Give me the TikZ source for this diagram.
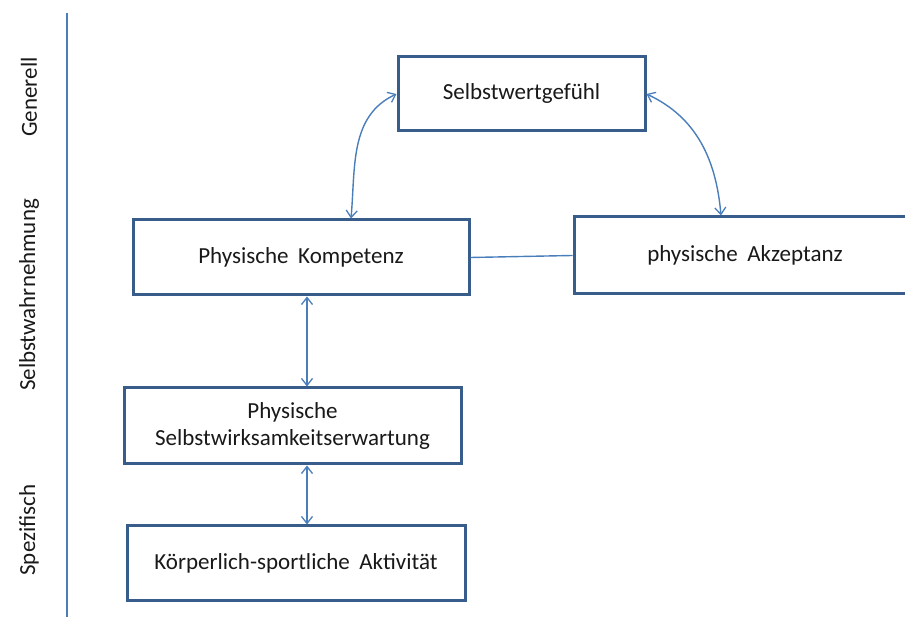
\documentclass[tikz,border=0pt]{standalone}
\usepackage{fontspec}
\setmainfont{Carlito}
\usetikzlibrary{arrows.meta}
\definecolor{boxline}{HTML}{385D8A}
\definecolor{linkline}{HTML}{4A7EBB}
\newcommand{\gap}{\hspace{0.42em}}
\begin{document}
\begin{tikzpicture}[x=1pt,y=1pt,
  box/.style={draw=boxline, line width=3pt, fill=white, align=center,
    inner sep=0pt, font=\fontsize{23}{27.5}\selectfont, text=black!90},
  link/.style={draw=linkline, line width=1.4pt},
  twoway/.style={link, {Straight Barb[length=7pt,width=11pt,line width=1.3pt]}-{Straight Barb[length=7pt,width=11pt,line width=1.3pt]}},
  level/.style={rotate=90, font=\fontsize{23}{25}\selectfont, text=black!90}]
\useasboundingbox (0,0) rectangle (905,617);
\clip (0,0) rectangle (905,617);

% level axis
\coordinate (axtop) at (67,604);
\coordinate (axbot) at (67,0);
\draw[linkline, line width=1.4pt] (axtop) -- (axbot);
\node[level] (lgen) at (29,520) {Generell};
\node[level] (lself) at (29,322) {Selbstwahrnehmung};
\node[level] (lspez) at (29,87) {Spezifisch};

% boxes
\node[box, minimum width=247pt, minimum height=74pt] (sw) at (521.5,523) {Selbstwertgefühl};
\node[box, minimum width=336pt, minimum height=75pt] (komp) at (301,359.5) {Physische\gap Kompetenz};
\node[box, minimum width=342pt, minimum height=77pt] (akz) at (745,361.5) {physische\gap Akzeptanz};
\node[box, minimum width=337pt, minimum height=76pt] (swe) at (292.5,191) {Physische\\Selbstwirksamkeitserwartung};
\node[box, minimum width=338pt, minimum height=75pt] (koerp) at (296,53.5) {Körperlich-sportliche\gap Aktivität};

% connectors
\coordinate (lx) at (351,0);
\coordinate (rx) at (721,0);
\coordinate (vx) at (307,0);
\draw[twoway] (komp.north -| lx) to[out=85,in=205] (sw.west);
\draw[twoway] (sw.east) to[out=-25,in=95] (akz.north -| rx);
\draw[link] (komp.east) -- (akz.west);
\draw[twoway] (komp.south -| vx) -- (swe.north -| vx);
\draw[twoway] (swe.south -| vx) -- (koerp.north -| vx);
\end{tikzpicture}
\end{document}
